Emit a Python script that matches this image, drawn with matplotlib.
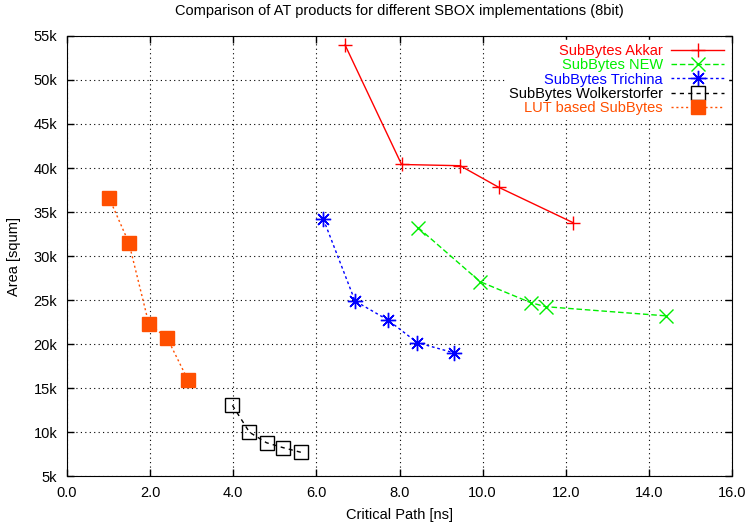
"""
Comparison of AT products for different SBOX implementations (8bit)
"""

import matplotlib
matplotlib.use('Agg')
import matplotlib.pyplot as plt
from matplotlib.ticker import FuncFormatter, MultipleLocator

plt.rcParams['font.family'] = ['Liberation Sans', 'DejaVu Sans']

# critical path [ns] / area [k squm]
akkar_x = [6.69, 8.05, 9.46, 10.39, 12.18]
akkar_y = [53.98, 40.40, 40.26, 37.80, 33.78]

new_x = [8.45, 9.94, 11.16, 11.52, 14.41]
new_y = [33.22, 27.08, 24.69, 24.24, 23.20]

trichina_x = [6.17, 6.93, 7.72, 8.43, 9.30]
trichina_y = [34.17, 24.89, 22.73, 20.15, 19.01]

wolker_x = [3.98, 4.39, 4.80, 5.20, 5.63]
wolker_y = [13.03, 9.97, 8.78, 8.22, 7.69]

lut_x = [1.01, 1.49, 1.97, 2.41, 2.91]
lut_y = [36.63, 31.48, 22.27, 20.68, 15.91]

ORANGE = '#ff4f00'
FS = 10.5

fig = plt.figure(figsize=(7.47, 5.22), dpi=100)
ax = fig.add_axes([67 / 747, 1 - 476 / 522, 665 / 747, 440 / 522])

ax.plot(akkar_x, akkar_y, color='red', lw=1, marker='+', ms=10, mew=1,
        label='SubBytes Akkar')
ax.plot(new_x, new_y, color='#00ee00', lw=1, ls=(0, (4, 2)), marker='x',
        ms=10, mew=1, label='SubBytes NEW')
ax.plot(trichina_x, trichina_y, color='blue', lw=1, ls=(0, (2, 2)),
        marker=(8, 2, 0), ms=11, mew=1, label='SubBytes Trichina')
ax.plot(wolker_x, wolker_y, color='black', lw=1, ls=(0, (3, 3)), marker='s',
        ms=10, mfc='none', mew=1, label='SubBytes Wolkerstorfer')
ax.plot(lut_x, lut_y, color=ORANGE, lw=1, ls=(0, (1.5, 2)), marker='s',
        ms=10, mec=ORANGE, label='LUT based SubBytes')

ax.set_xlim(0, 16)
ax.set_ylim(5, 55)
ax.xaxis.set_major_locator(MultipleLocator(2))
ax.yaxis.set_major_locator(MultipleLocator(5))
ax.xaxis.set_major_formatter(FuncFormatter(lambda v, p: f'{v:.1f}'))
ax.yaxis.set_major_formatter(FuncFormatter(lambda v, p: f'{int(v)}k'))
ax.tick_params(direction='in', length=5, width=1, labelsize=FS, pad=7,
               top=True, right=True)
ax.grid(True, color='black', ls=(0, (1, 3)), lw=0.8)

ax.set_xlabel('Critical Path [ns]', fontsize=FS, labelpad=6)
ax.set_ylabel('Area [squm]', fontsize=FS, labelpad=9)
ax.set_title('Comparison of AT products for different SBOX implementations (8bit)',
             fontsize=FS, pad=15)

leg = ax.legend(loc='upper right', fontsize=FS, markerfirst=False,
                frameon=True, fancybox=False, handlelength=3.6,
                labelspacing=0.02, borderaxespad=0.3, handletextpad=0.6,
                borderpad=0.25, framealpha=1)
leg.get_frame().set_edgecolor('white')
for text, line in zip(leg.get_texts(), leg.get_lines()):
    text.set_color(line.get_color())
    text.set_ha('right')

fig.savefig('out.png', dpi=100)
